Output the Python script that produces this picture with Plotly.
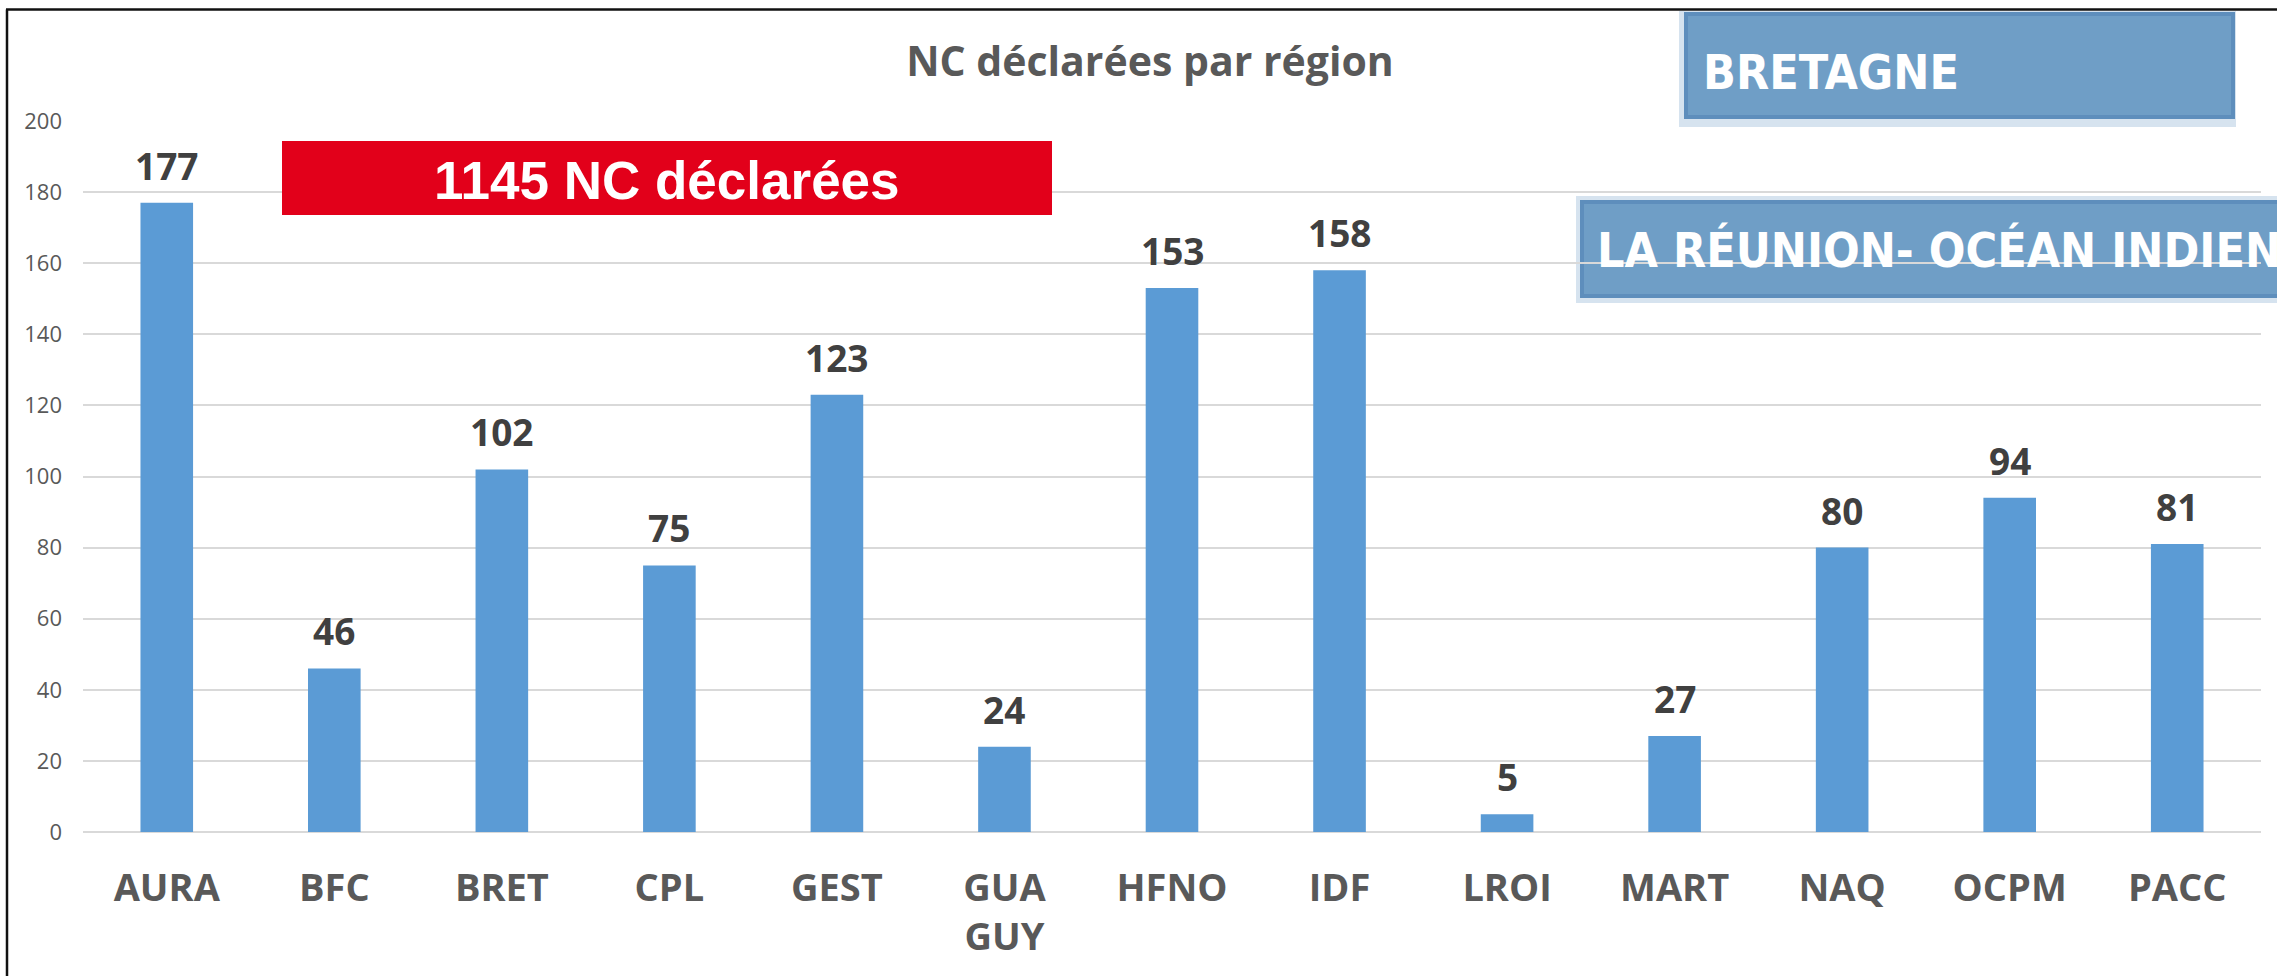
import plotly.graph_objects as go

# ---------------- data ----------------
categories = ["AURA", "BFC", "BRET", "CPL", "GEST", "GUA<br>GUY", "HFNO",
              "IDF", "LROI", "MART", "NAQ", "OCPM", "PACC"]
values = [177, 46, 102, 75, 123, 24, 153, 158, 5, 27, 80, 94, 81]
y_ticks = [0, 20, 40, 60, 80, 100, 120, 140, 160, 180, 200]
title_text = "NC déclarées par région"
total_text = "1145 NC déclarées"
banner_texts = ["BRETAGNE", "LA RÉUNION- OCÉAN INDIEN"]

# ---------------- geometry (pixels) ----------------
W, H = 2277, 976
L, R, T, B = 83, 2261, 121, 832


def px(X):
    return (X - L) / (R - L)


def py(Y):
    return (B - Y) / (B - T)


GRAY = "#595959"
BAR = "#5B9BD5"
GRID = "#D9D9D9"
BANNER_FONT = "DejaVu Sans Condensed, Liberation Sans Narrow, DejaVu Sans"

fig = go.Figure()
fig.add_trace(go.Bar(
    x=categories, y=values,
    marker=dict(color=BAR, line=dict(width=0)),
    hoverinfo="skip",
))

shapes = []
# banner 1 (BRETAGNE)
shapes.append(dict(type="rect", xref="paper", yref="paper", layer="below",
                   x0=px(1679), x1=px(2236), y0=py(127), y1=py(11),
                   fillcolor="#D6E3EF", line=dict(width=0)))
shapes.append(dict(type="rect", xref="paper", yref="paper", layer="below",
                   x0=px(1686), x1=px(2233), y0=py(117), y1=py(14),
                   fillcolor="#6F9EC6", line=dict(color="#5E8EBC", width=4)))
# banner 2 (LA REUNION)
shapes.append(dict(type="rect", xref="paper", yref="paper", layer="below",
                   x0=px(1576), x1=px(2300), y0=py(303), y1=py(196),
                   fillcolor="#D6E3EF", line=dict(width=0)))
shapes.append(dict(type="rect", xref="paper", yref="paper", layer="below",
                   x0=px(1582), x1=px(2300), y0=py(296), y1=py(202),
                   fillcolor="#6F9EC6", line=dict(color="#5E8EBC", width=4)))
# red total box
shapes.append(dict(type="rect", xref="paper", yref="paper", layer="above",
                   x0=px(282), x1=px(1052), y0=py(215), y1=py(141),
                   fillcolor="#E2001A", line=dict(width=0)))
# black frame (top and left)
shapes.append(dict(type="line", xref="paper", yref="paper", layer="above",
                   x0=px(6), x1=px(2290), y0=py(9.5), y1=py(9.5),
                   line=dict(color="#111111", width=2.5)))
shapes.append(dict(type="line", xref="paper", yref="paper", layer="above",
                   x0=px(7), x1=px(7), y0=py(9.5), y1=py(990),
                   line=dict(color="#111111", width=2.5)))

annotations = [
    dict(text=total_text, xref="paper", yref="paper", x=px(667), y=py(180),
         xanchor="center", yanchor="middle", showarrow=False,
         font=dict(family="Liberation Sans, Arial", size=53, color="white", weight="bold")),
    dict(text=banner_texts[0], xref="paper", yref="paper", x=px(1701), y=py(72),
         xanchor="left", yanchor="middle", showarrow=False,
         font=dict(family=BANNER_FONT, size=48, color="white", weight="bold")),
    dict(text=banner_texts[1], xref="paper", yref="paper", x=px(1595), y=py(250),
         xanchor="left", yanchor="middle", showarrow=False,
         font=dict(family=BANNER_FONT, size=48, color="white", weight="bold")),
]
# value labels above bars
for c, v in zip(categories, values):
    annotations.append(dict(
        x=c, y=v, xref="x", yref="y", text=str(v), showarrow=False,
        xanchor="center", yanchor="bottom", yshift=10,
        font=dict(family="Open Sans", size=37, color="#404040", weight="bold")))

fig.update_layout(
    width=W, height=H,
    margin=dict(l=L, r=W - R, t=T, b=H - B, pad=0),
    paper_bgcolor="white", plot_bgcolor="white",
    showlegend=False,
    bargap=0.686,
    title=dict(text=title_text, x=1150 / W, xref="container", xanchor="center",
               y=1 - 62 / H, yref="container", yanchor="middle",
               font=dict(family="Open Sans", size=41, color=GRAY, weight="bold")),
    xaxis=dict(showgrid=False, showline=False, ticks="", zeroline=False,
               ticklabelstandoff=30,
               tickfont=dict(family="Open Sans", size=38, color=GRAY, weight="bold")),
    yaxis=dict(range=[0, 200], tickvals=y_ticks, showgrid=True, gridcolor=GRID, gridwidth=2,
               zeroline=True, zerolinecolor=GRID, zerolinewidth=2, showline=False, ticks="",
               ticklabelstandoff=20,
               tickfont=dict(family="Open Sans", size=22, color=GRAY)),
    shapes=shapes,
    annotations=annotations,
)

fig.write_html("out.html", config=dict(displayModeBar=False),
               post_script="document.body.style.margin='0';document.body.style.overflow='hidden';")
